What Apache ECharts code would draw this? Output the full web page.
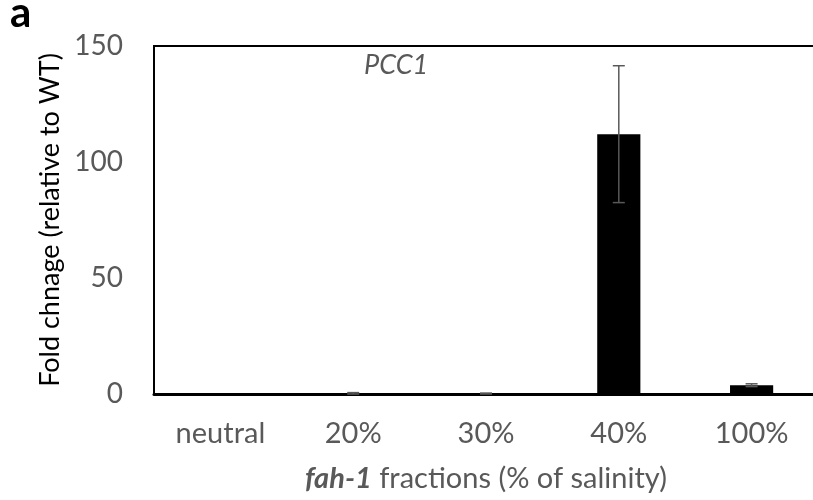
<!DOCTYPE html>
<html><head><meta charset="utf-8">
<script src="https://cdn.jsdelivr.net/npm/echarts@6/dist/echarts.min.js"></script>
<style>html,body{margin:0;padding:0;background:#fff}#c{width:813px;height:500px}</style>
</head><body><div id="c"></div>
<script>
const categories = ['neutral', '20%', '30%', '40%', '100%'];
const foldChange = [0, 0.3, 0.2, 112, 3.8];
const errorSD = [0, 0.3, 0.2, 29.5, 0.6];
const yTicks = [0, 50, 100, 150];

const FONT = 'Lato';
const chart = echarts.init(document.getElementById('c'), null, {renderer: 'canvas'});
const errData = foldChange.map((v, i) => [i, v - errorSD[i], v + errorSD[i], errorSD[i]]);
chart.setOption({
  animation: false,
  backgroundColor: '#fff',
  grid: {left: 154, top: 46, width: 664, height: 348, show: true, borderColor: '#000', borderWidth: 2,
    backgroundColor: 'transparent', containLabel: false, outerBoundsMode: 'none'},
  graphic: [
    {type: 'text', left: 10, top: -8, style: {text: 'a', font: 'bold 42px ' + FONT, fill: '#000'}},
    {type: 'text', left: 364, top: 52, style: {text: 'PCC1', font: 'italic 27px ' + FONT, fill: '#595959'}}
  ],
  xAxis: {
    type: 'category', data: categories,
    axisLine: {show: true, lineStyle: {color: '#000', width: 3}},
    axisTick: {show: false},
    axisLabel: {color: '#595959', fontFamily: FONT, fontSize: 29, margin: 25},
    name: '{b|fah-1} fractions (% of salinity)',
    nameLocation: 'middle', nameGap: 70,
    nameTextStyle: {color: '#595959', fontFamily: FONT, fontSize: 29,
      rich: {b: {fontWeight: 'bold', fontStyle: 'italic', color: '#595959', fontFamily: FONT, fontSize: 29}}}
  },
  yAxis: {
    type: 'value', min: 0, max: 150, interval: 50,
    axisLine: {show: true, lineStyle: {color: '#000', width: 2}},
    axisTick: {show: false}, splitLine: {show: false},
    axisLabel: {color: '#595959', fontFamily: FONT, fontSize: 28, margin: 31,
      formatter: v => yTicks.includes(v) ? String(v) : ''},
    name: 'Fold chnage (relative to WT)', nameLocation: 'middle', nameGap: 80,
    nameTextStyle: {color: '#000', fontFamily: FONT, fontSize: 27}
  },
  series: [
    {type: 'bar', data: foldChange, barWidth: '32.5%', itemStyle: {color: '#000'}},
    {type: 'custom', data: errData, z: 10,
      renderItem: function (params, api) {
        if (api.value(3) <= 0) return null;
        const x = api.coord([api.value(0), 0])[0];
        const lo = api.coord([api.value(0), api.value(1)])[1];
        const hi = api.coord([api.value(0), api.value(2)])[1];
        const hw = 6;
        const st = {stroke: '#595959', lineWidth: 1.5};
        return {type: 'group', children: [
          {type: 'line', shape: {x1: x, y1: lo, x2: x, y2: hi}, style: st},
          {type: 'line', shape: {x1: x - hw, y1: lo, x2: x + hw, y2: lo}, style: st},
          {type: 'line', shape: {x1: x - hw, y1: hi, x2: x + hw, y2: hi}, style: st}
        ]};
      }}
  ]
});
</script></body></html>
